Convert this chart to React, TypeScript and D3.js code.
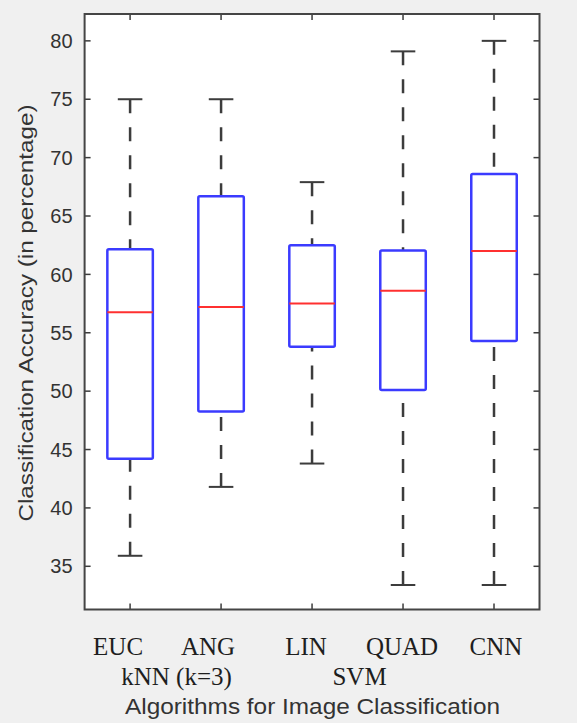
import React from 'react';
import * as d3 from 'd3';

const methods = ['EUC', 'ANG', 'LIN', 'QUAD', 'CNN'];
const lowerWhisker = [35.9, 41.8, 43.8, 33.4, 33.4];
const q1 = [44.2, 48.25, 53.8, 50.1, 54.3];
const median = [56.75, 57.2, 57.5, 58.6, 62.0];
const q3 = [62.15, 66.7, 62.5, 62.05, 68.6];
const upperWhisker = [75.0, 75.0, 67.9, 79.1, 80.0];
const yTicks = [35, 40, 45, 50, 55, 60, 65, 70, 75, 80];
const groupLabels = ['kNN (k=3)', 'SVM'];

const W = 577;
const H = 723;
const frame = { left: 84.6, right: 539.5, top: 14, bottom: 609.5 };

function App() {
  const x = d3.scaleLinear().domain([0.5, 5.5]).range([frame.left, frame.right]);
  const y = d3.scaleLinear().domain([31.3, 82.3]).range([frame.bottom, frame.top]);
  const band = x(2) - x(1);
  const boxHalf = band * 0.25;
  const capHalf = band * 0.135;

  // label nudges (the labels in the original are not centred on the boxes)
  const labelShift = [-12, -13, -6, -1, 2];
  const groupX = [(x(1) + x(2)) / 2 + 1, (x(3) + x(4)) / 2 + 2];

  const dark = '#3c3c3c';
  const blue = '#3b3bff';
  const red = '#ff3030';
  const sans = "'Liberation Sans', Arial, sans-serif";
  const serif = "'Liberation Serif', 'Times New Roman', serif";

  return (
    <svg width={W} height={H} style={{ position: 'absolute', left: 0, top: 0 }}>
      <rect width={W} height={H} fill="#f0f0f0" />
      <rect
        x={frame.left}
        y={frame.top}
        width={frame.right - frame.left}
        height={frame.bottom - frame.top}
        fill="#ffffff"
      />

      {/* y ticks, both sides */}
      {yTicks.map((t) => (
        <g key={t}>
          <line x1={frame.left} x2={frame.left + 6} y1={y(t)} y2={y(t)} stroke={dark} strokeWidth={1.5} />
          <line x1={frame.right - 6} x2={frame.right} y1={y(t)} y2={y(t)} stroke={dark} strokeWidth={1.5} />
          <text x={frame.left - 12} y={y(t)} dy="0.36em" textAnchor="end" fontFamily={sans} fontSize={20} fill="#333">
            {t}
          </text>
        </g>
      ))}

      {/* x ticks, top and bottom */}
      {methods.map((m, i) => (
        <g key={m}>
          <line x1={x(i + 1)} x2={x(i + 1)} y1={frame.top} y2={frame.top + 6} stroke={dark} strokeWidth={1.5} />
          <line x1={x(i + 1)} x2={x(i + 1)} y1={frame.bottom - 6} y2={frame.bottom} stroke={dark} strokeWidth={1.5} />
        </g>
      ))}

      {/* boxes */}
      {methods.map((m, i) => {
        const cx = x(i + 1);
        return (
          <g key={m}>
            <line x1={cx} x2={cx} y1={y(upperWhisker[i])} y2={y(q3[i])} stroke={dark} strokeWidth={2.5} strokeDasharray="14,14" />
            <line x1={cx} x2={cx} y1={y(lowerWhisker[i])} y2={y(q1[i])} stroke={dark} strokeWidth={2.5} strokeDasharray="14,14" />
            <line x1={cx - capHalf} x2={cx + capHalf} y1={y(upperWhisker[i])} y2={y(upperWhisker[i])} stroke={dark} strokeWidth={2} />
            <line x1={cx - capHalf} x2={cx + capHalf} y1={y(lowerWhisker[i])} y2={y(lowerWhisker[i])} stroke={dark} strokeWidth={2} />
            <rect
              x={cx - boxHalf}
              y={y(q3[i])}
              width={boxHalf * 2}
              height={y(q1[i]) - y(q3[i])}
              fill="none"
              stroke={blue}
              strokeWidth={2.5}
              rx={1.5}
            />
            <line x1={cx - boxHalf} x2={cx + boxHalf} y1={y(median[i])} y2={y(median[i])} stroke={red} strokeWidth={2} />
          </g>
        );
      })}

      <rect
        x={frame.left}
        y={frame.top}
        width={frame.right - frame.left}
        height={frame.bottom - frame.top}
        fill="none"
        stroke="#454545"
        strokeWidth={2}
      />

      {/* category labels */}
      {methods.map((m, i) => (
        <text key={m} x={x(i + 1) + labelShift[i]} y={655} textAnchor="middle" fontFamily={serif} fontSize={25} fill="#1e1e1e">
          {m}
        </text>
      ))}
      {groupLabels.map((g, i) => (
        <text key={g} x={groupX[i]} y={685} textAnchor="middle" fontFamily={serif} fontSize={25} fill="#1e1e1e">
          {g}
        </text>
      ))}

      <text
        x={312.5}
        y={714}
        textAnchor="middle"
        fontFamily={sans}
        fontSize={22}
        textLength={375}
        lengthAdjust="spacingAndGlyphs"
        fill="#333"
      >
        Algorithms for Image Classification
      </text>
      <text
        transform={`translate(33, 313) rotate(-90)`}
        textAnchor="middle"
        fontFamily={sans}
        fontSize={20}
        textLength={417}
        lengthAdjust="spacingAndGlyphs"
        fill="#333"
      >
        Classification Accuracy (in percentage)
      </text>
    </svg>
  );
}

export default App;
